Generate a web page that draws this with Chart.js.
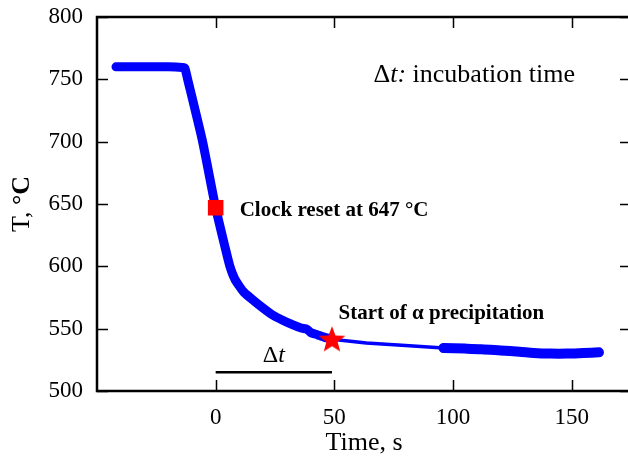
<!DOCTYPE html>
<html>
<head>
<meta charset="utf-8">
<script src="https://cdn.jsdelivr.net/npm/chart.js@4.4.1/dist/chart.umd.min.js"></script>
<style>
  html, body { margin: 0; padding: 0; background: #fff; overflow: hidden; }
</style>
</head>
<body>
<canvas id="chart" width="646" height="464"></canvas>
<script>
  // cooling curve (time in s, temperature in °C)
  const coolTime = [-42, -30, -20, -14, -13, -11.8, -5.5, 0, 4, 6, 8, 10, 12, 15.7, 20, 24, 28, 32.6, 36, 38.5, 40, 43, 46, 49];
  const coolTemp = [760, 760, 760, 759.5, 759, 750, 700, 647, 615, 600, 590, 584, 579, 573, 566.5, 561, 557, 553, 550.5, 549.5, 547, 545, 543, 541.5];

  // sparse stretch after the star
  const gapTime = [49, 63.5, 80, 96];
  const gapTemp = [541.5, 538.5, 536.5, 534.5];

  // isothermal hold
  const holdTime = [96, 105, 112, 120, 128, 134, 141, 148, 155, 161.5];
  const holdTemp = [534.5, 534, 533.5, 532.5, 531.5, 530.5, 530, 530, 530.5, 531];

  const resetPoint = { x: 0, y: 647 };
  const startPoint = { x: 49, y: 542 };
  const dtTime = [0, 49];
  const dtTemp = [515, 515];

  const xTicks = [0, 50, 100, 150];
  const yTicks = [500, 550, 600, 650, 700, 750, 800];

  const SERIF = '"Liberation Serif", "Times New Roman", serif';
  const BLUE = '#0000ff';
  const RED = '#ff0000';

  const toPoints = (xs, ys) => xs.map((x, i) => ({ x, y: ys[i] }));

  const makeStar = (r, color) => {
    const c = document.createElement('canvas');
    const s = Math.ceil(r * 2 + 2);
    c.width = s;
    c.height = s;
    const ctx = c.getContext('2d');
    ctx.fillStyle = color;
    ctx.beginPath();
    for (let i = 0; i < 10; i++) {
      const rad = i % 2 ? r * 0.42 : r;
      const a = -Math.PI / 2 + (i * Math.PI) / 5;
      const px = s / 2 + rad * Math.cos(a);
      const py = s / 2 + 1.5 + rad * Math.sin(a);
      if (i === 0) ctx.moveTo(px, py);
      else ctx.lineTo(px, py);
    }
    ctx.closePath();
    ctx.fill();
    return c;
  };

  // inward ticks on all four sides plus the box (right edge falls off the picture)
  const framePlugin = {
    id: 'frame',
    afterDatasetsDraw(chart) {
      const { ctx, chartArea: a, scales } = chart;
      ctx.save();
      ctx.strokeStyle = '#000';
      ctx.lineWidth = 1.5;
      ctx.beginPath();
      xTicks.forEach((v) => {
        const px = Math.round(scales.x.getPixelForValue(v)) + 0.5;
        ctx.moveTo(px, a.bottom);
        ctx.lineTo(px, a.bottom - 11);
        ctx.moveTo(px, a.top);
        ctx.lineTo(px, a.top + 11);
      });
      yTicks.forEach((v) => {
        const py = Math.round(scales.y.getPixelForValue(v)) + 0.5;
        ctx.moveTo(a.left, py);
        ctx.lineTo(a.left + 11, py);
        ctx.moveTo(a.right, py);
        ctx.lineTo(a.right - 11, py);
      });
      ctx.stroke();
      ctx.lineWidth = 2.5;
      ctx.beginPath();
      ctx.moveTo(a.right + 4, a.top);
      ctx.lineTo(a.left, a.top);
      ctx.lineTo(a.left, a.bottom);
      ctx.lineTo(a.right + 4, a.bottom);
      ctx.stroke();
      ctx.restore();
    }
  };

  const labelPlugin = {
    id: 'labels',
    afterDatasetsDraw(chart) {
      const { ctx, scales, chartArea } = chart;
      const X = (v) => scales.x.getPixelForValue(v);
      const Y = (v) => scales.y.getPixelForValue(v);
      ctx.save();
      ctx.fillStyle = '#000';
      ctx.textBaseline = 'alphabetic';
      ctx.textAlign = 'left';

      ctx.font = `bold 21px ${SERIF}`;
      ctx.fillText('Clock reset at 647 °C', X(10.1), Y(640));
      ctx.fillText('Start of α precipitation', X(51.8), Y(558));

      // "Δt: incubation time"
      let x = X(66.5);
      const by = Y(748);
      ctx.font = `26px ${SERIF}`;
      ctx.fillText('Δ', x, by);
      x += ctx.measureText('Δ').width;
      ctx.font = `italic 26px ${SERIF}`;
      ctx.fillText('t:', x, by);
      x += ctx.measureText('t:').width;
      ctx.font = `26px ${SERIF}`;
      ctx.fillText(' incubation time', x, by);

      // Δt over the bar
      const mid = X((dtTime[0] + dtTime[1]) / 2);
      const dy = Y(523.5);
      ctx.font = `24px ${SERIF}`;
      const wD = ctx.measureText('Δ').width;
      ctx.font = `italic 24px ${SERIF}`;
      const wT = ctx.measureText('t').width;
      const sx = mid - (wD + wT) / 2;
      ctx.font = `24px ${SERIF}`;
      ctx.fillText('Δ', sx, dy);
      ctx.font = `italic 24px ${SERIF}`;
      ctx.fillText('t', sx + wD, dy);

      // y axis title: "T, " regular, "°C" bold
      ctx.translate(22, (chartArea.top + chartArea.bottom) / 2);
      ctx.rotate(-Math.PI / 2);
      ctx.textBaseline = 'middle';
      ctx.font = `26px ${SERIF}`;
      const w1 = ctx.measureText('T, ').width;
      ctx.font = `bold 26px ${SERIF}`;
      const w2 = ctx.measureText('°C').width;
      const tx = -(w1 + w2) / 2;
      ctx.font = `26px ${SERIF}`;
      ctx.fillText('T, ', tx, 0);
      ctx.font = `bold 26px ${SERIF}`;
      ctx.fillText('°C', tx + w1, 0);
      ctx.restore();
    }
  };

  const blueLine = (data, width, tension) => ({
    data,
    borderColor: BLUE,
    backgroundColor: BLUE,
    borderWidth: width,
    borderCapStyle: 'round',
    borderJoinStyle: 'round',
    tension,
    pointRadius: 0,
    fill: false,
    order: 2
  });

  new Chart(document.getElementById('chart'), {
    type: 'line',
    data: {
      datasets: [
        {
          data: [resetPoint],
          showLine: false,
          pointStyle: 'rect',
          pointRadius: 11,
          backgroundColor: RED,
          borderColor: RED,
          borderWidth: 0,
          order: 0
        },
        {
          data: [startPoint],
          showLine: false,
          pointStyle: makeStar(14, RED),
          pointRadius: 14,
          order: 0
        },
        {
          data: toPoints(dtTime, dtTemp),
          borderColor: '#000',
          borderWidth: 2.5,
          pointRadius: 0,
          order: 1
        },
        blueLine(toPoints(coolTime, coolTemp), 9, 0.2),
        blueLine(toPoints(gapTime, gapTemp), 3.5, 0),
        blueLine(toPoints(holdTime, holdTemp), 10, 0.3)
      ]
    },
    options: {
      responsive: false,
      animation: false,
      events: [],
      layout: { padding: { top: 17, right: 14.5, left: 0, bottom: 0 } },
      plugins: { legend: { display: false }, tooltip: { enabled: false } },
      scales: {
        x: {
          type: 'linear',
          min: -50,
          max: 175,
          afterBuildTicks: (scale) => {
            scale.ticks = xTicks.map((value) => ({ value }));
          },
          afterFit: (scale) => {
            scale.height = 73;
            scale.paddingLeft = 0;
            scale.paddingRight = 0;
          },
          grid: { display: false, drawTicks: false },
          border: { display: false },
          ticks: {
            padding: 13,
            color: '#000',
            font: { family: SERIF, size: 23 }
          },
          title: {
            display: true,
            text: 'Time, s',
            color: '#000',
            font: { family: SERIF, size: 26 },
            padding: { top: 0, bottom: 5 }
          }
        },
        y: {
          min: 500,
          max: 800,
          afterBuildTicks: (scale) => {
            scale.ticks = yTicks.map((value) => ({ value }));
          },
          afterFit: (scale) => {
            scale.width = 97;
            scale.paddingTop = 0;
            scale.paddingBottom = 0;
          },
          grid: { display: false, drawTicks: false },
          border: { display: false },
          ticks: {
            padding: 14,
            color: '#000',
            font: { family: SERIF, size: 23 }
          },
          title: { display: false }
        }
      }
    },
    plugins: [framePlugin, labelPlugin]
  });
</script>
</body>
</html>
